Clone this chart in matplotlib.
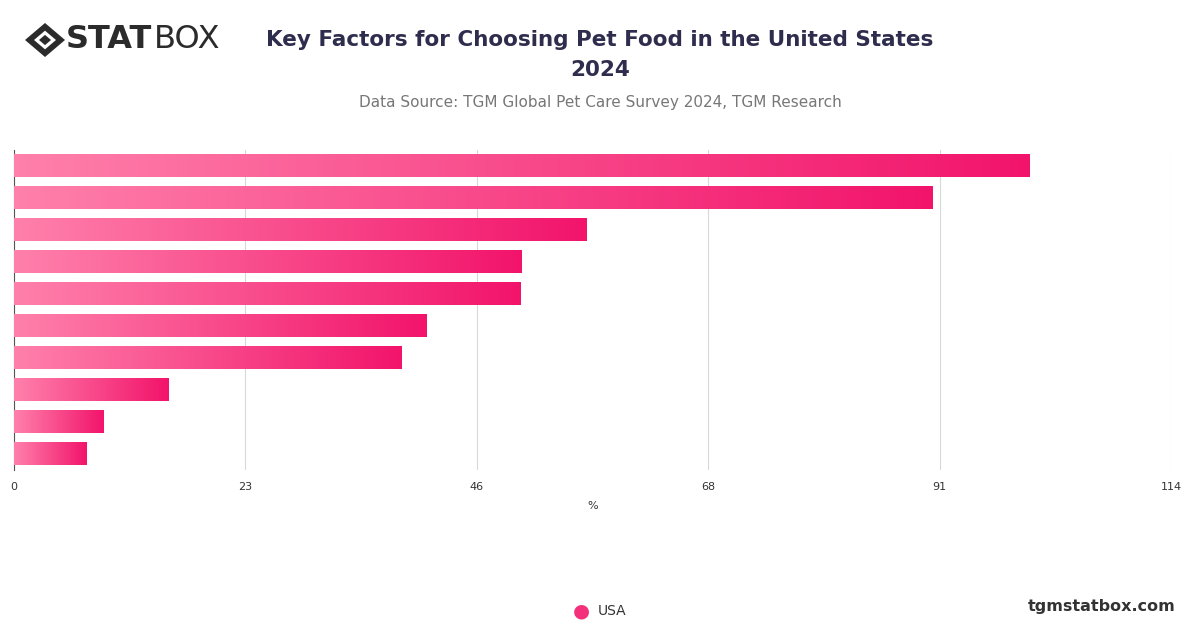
import matplotlib
matplotlib.use("Agg")
import matplotlib.pyplot as plt
import numpy as np
from matplotlib.colors import LinearSegmentedColormap
from matplotlib.patches import Polygon

values = [100.1, 90.5, 56.4, 50.0, 49.9, 40.6, 38.2, 15.2, 8.8, 7.1]
ticks = [0, 22.8, 45.6, 68.4, 91.2, 114]
tick_labels = ["0", "23", "46", "68", "91", "114"]

fig = plt.figure(figsize=(12, 6.28), dpi=100)
ax = fig.add_axes([14/1200, 1-470/628, (1171-14)/1200, 320/628])
cmap = LinearSegmentedColormap.from_list("g", ["#ff80ab", "#f2146b"])
grad = np.linspace(0, 1, 256).reshape(1, -1)
h = 0.7
for i, v in enumerate(values):
    ax.imshow(grad, cmap=cmap, aspect="auto", extent=[0, v, i - h/2, i + h/2], zorder=3)
ax.set_xlim(0, 114)
ax.set_ylim(len(values) - 0.5, -0.5)
ax.set_xticks(ticks)
ax.set_xticklabels(tick_labels, fontsize=8, color="#333333")
ax.set_yticks([])
ax.grid(axis="x", color="#d9d9d9", linewidth=0.8, zorder=0)
for s in ["top", "right", "bottom"]:
    ax.spines[s].set_visible(False)
ax.spines["left"].set_color("#555555")
ax.spines["left"].set_linewidth(0.8)
ax.tick_params(axis="x", length=0, pad=9)
ax.set_xlabel("%", fontsize=8, color="#333333", labelpad=6)

fig.text(0.5, 1-40/628, "Key Factors for Choosing Pet Food in the United States", ha="center", va="center",
         fontsize=15.5, fontweight="bold", color="#2e2d4d")
fig.text(0.5, 1-70/628, "2024", ha="center", va="center", fontsize=15.5, fontweight="bold", color="#2e2d4d")
fig.text(0.5, 1-102/628, "Data Source: TGM Global Pet Care Survey 2024, TGM Research", ha="center", va="center",
         fontsize=11, color="#777777")

# legend
fig.text(581/1200, 1-611/628, "●", ha="center", va="center", fontsize=14, color="#f5307a")
fig.text(598/1200, 1-611/628, "USA", ha="left", va="center", fontsize=10, color="#333333")
fig.text(1176/1200, 1-606/628, "tgmstatbox.com", ha="right", va="center", fontsize=11.5, fontweight="bold", color="#333333")

# logo
lax = fig.add_axes([25/1200, 1-57/628, 40/1200, 34/628])
lax.set_xlim(-1, 1); lax.set_ylim(-1, 1); lax.axis("off")
lax.add_patch(Polygon([[0, 1], [1, 0], [0, -1], [-1, 0]], closed=True, fc="#2b2b2b"))
lax.add_patch(Polygon([[0, 0.55], [0.55, 0], [0, -0.55], [-0.55, 0]], closed=True, fc="white"))
lax.add_patch(Polygon([[0, 0.3], [0.3, 0], [0, -0.3], [-0.3, 0]], closed=True, fc="#2b2b2b"))
fig.text(66/1200, 1-40/628, "STAT", ha="left", va="center", fontsize=23, fontweight="black", color="#2b2b2b")
fig.text(154/1200, 1-40/628, "BOX", ha="left", va="center", fontsize=23, color="#2b2b2b")

fig.savefig("out.png", dpi=100)
